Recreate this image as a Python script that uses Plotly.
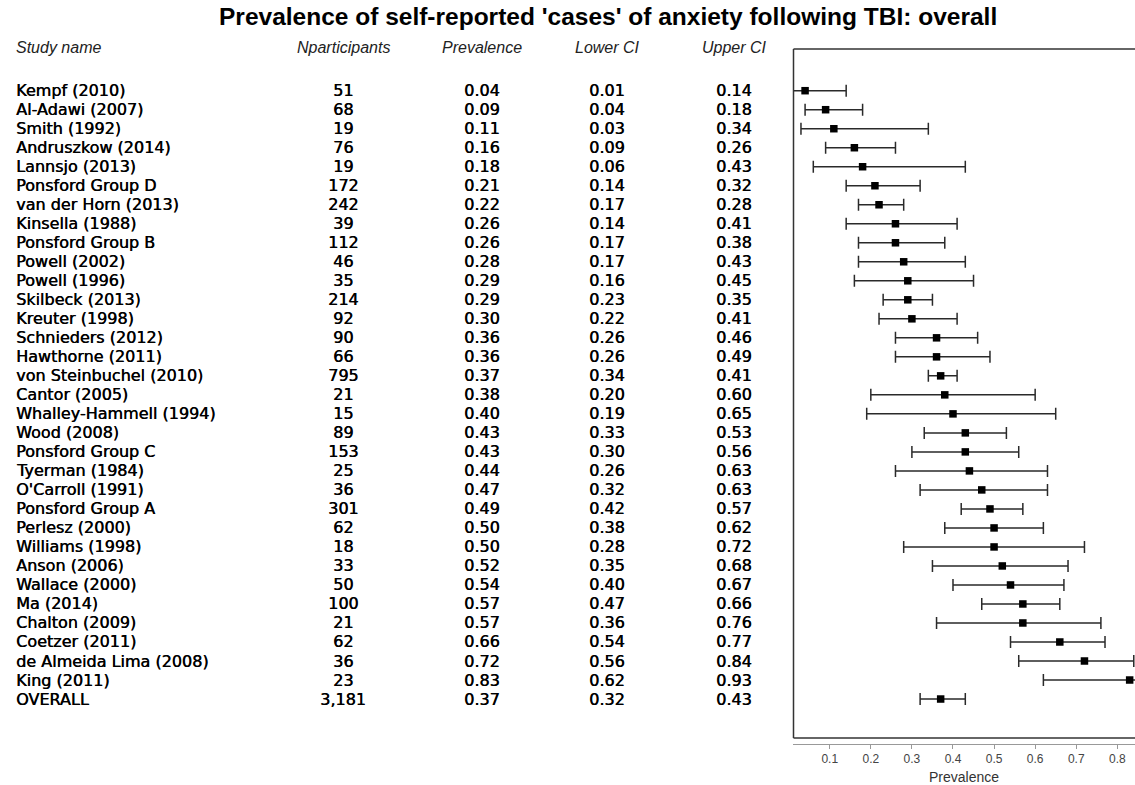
import plotly.graph_objects as go

# Study-level prevalence of self-reported anxiety 'cases' after TBI
studies = ["Kempf (2010)", "Al-Adawi (2007)", "Smith (1992)", "Andruszkow (2014)",
           "Lannsjo (2013)", "Ponsford Group D", "van der Horn (2013)", "Kinsella (1988)",
           "Ponsford Group B", "Powell (2002)", "Powell (1996)", "Skilbeck (2013)",
           "Kreuter (1998)", "Schnieders (2012)", "Hawthorne (2011)", "von Steinbuchel (2010)",
           "Cantor (2005)", "Whalley-Hammell (1994)", "Wood (2008)", "Ponsford Group C",
           "Tyerman (1984)", "O'Carroll (1991)", "Ponsford Group A", "Perlesz (2000)",
           "Williams (1998)", "Anson (2006)", "Wallace (2000)", "Ma (2014)",
           "Chalton (2009)", "Coetzer (2011)", "de Almeida Lima (2008)", "King (2011)",
           "OVERALL"]
n_participants = [51, 68, 19, 76, 19, 172, 242, 39, 112, 46, 35, 214, 92, 90, 66, 795,
                  21, 15, 89, 153, 25, 36, 301, 62, 18, 33, 50, 100, 21, 62, 36, 23, 3181]
prevalence = [0.04, 0.09, 0.11, 0.16, 0.18, 0.21, 0.22, 0.26, 0.26, 0.28, 0.29, 0.29,
              0.30, 0.36, 0.36, 0.37, 0.38, 0.40, 0.43, 0.43, 0.44, 0.47, 0.49, 0.50,
              0.50, 0.52, 0.54, 0.57, 0.57, 0.66, 0.72, 0.83, 0.37]
lower_ci = [0.01, 0.04, 0.03, 0.09, 0.06, 0.14, 0.17, 0.14, 0.17, 0.17, 0.16, 0.23,
            0.22, 0.26, 0.26, 0.34, 0.20, 0.19, 0.33, 0.30, 0.26, 0.32, 0.42, 0.38,
            0.28, 0.35, 0.40, 0.47, 0.36, 0.54, 0.56, 0.62, 0.32]
upper_ci = [0.14, 0.18, 0.34, 0.26, 0.43, 0.32, 0.28, 0.41, 0.38, 0.43, 0.45, 0.35,
            0.41, 0.46, 0.49, 0.41, 0.60, 0.65, 0.53, 0.56, 0.63, 0.63, 0.57, 0.62,
            0.72, 0.68, 0.67, 0.66, 0.76, 0.77, 0.84, 0.93, 0.43]
x_ticks = [0.1, 0.2, 0.3, 0.4, 0.5, 0.6, 0.7, 0.8]

W, H = 1135, 785
rows = list(range(len(studies)))

# pixel geometry of the forest panel
PLOT_LEFT, PLOT_TOP, AXIS_Y, BOX_BOTTOM = 793.5, 49, 744, 738
ROW0_Y, ROW_STEP = 90.7, 19.01


def px_x(p):
    return p / W


def px_y(p):
    return (H - p) / H


y_top = -(ROW0_Y - PLOT_TOP) / ROW_STEP
y_bottom = (AXIS_Y - ROW0_Y) / ROW_STEP

FONT = "Liberation Sans, Arial, sans-serif"
BODY = dict(family="DejaVu Sans, sans-serif", size=16, color="black",
            shadow="0.45px 0px 0px #000")
HEAD = dict(family=FONT, size=16, color="#222", style="italic")

fig = go.Figure()

fig.add_trace(go.Scatter(
    x=prevalence, y=rows, mode="markers",
    marker=dict(symbol="square", size=7.5, color="black"),
    error_x=dict(type="data", symmetric=False,
                 array=[u - p for u, p in zip(upper_ci, prevalence)],
                 arrayminus=[p - l for p, l in zip(prevalence, lower_ci)],
                 color="#2a2a2a", thickness=1.5, width=6),
    showlegend=False, hoverinfo="skip",
))

annotations = []
# table columns: (x centre in px, header, values)
columns = [
    (343, "Nparticipants", [f"{v:,}" for v in n_participants]),
    (482, "Prevalence", [f"{v:.2f}" for v in prevalence]),
    (607, "Lower CI", [f"{v:.2f}" for v in lower_ci]),
    (734, "Upper CI", [f"{v:.2f}" for v in upper_ci]),
]
annotations.append(dict(x=px_x(14), y=px_y(48), xref="paper", yref="paper",
                        text="Study name", showarrow=False, xanchor="left",
                        yanchor="middle", font=HEAD))
for r, name in zip(rows, studies):
    annotations.append(dict(x=px_x(14), y=r, xref="paper", yref="y", text=name,
                            showarrow=False, xanchor="left", yanchor="middle",
                            font=BODY))
for cx, head, vals in columns:
    annotations.append(dict(x=px_x(cx), y=px_y(48), xref="paper", yref="paper",
                            text=head, showarrow=False, xanchor="center",
                            yanchor="middle", font=HEAD))
    for r, v in zip(rows, vals):
        annotations.append(dict(x=px_x(cx), y=r, xref="paper", yref="y", text=v,
                                showarrow=False, xanchor="center", yanchor="middle",
                                font=BODY))

annotations.append(dict(x=px_x(608), y=px_y(17), xref="paper", yref="paper",
                        text="<b>Prevalence of self-reported 'cases' of anxiety following TBI: overall</b>",
                        showarrow=False, xanchor="center", yanchor="middle",
                        font=dict(family=FONT, size=24.5, color="black")))

# frame around the forest plot (left, top, bottom)
frame = dict(color="#333", width=1.5)
shapes = [
    dict(type="line", xref="paper", yref="paper", x0=px_x(PLOT_LEFT), x1=px_x(PLOT_LEFT),
         y0=px_y(PLOT_TOP), y1=px_y(BOX_BOTTOM), line=frame),
    dict(type="line", xref="paper", yref="paper", x0=px_x(PLOT_LEFT), x1=1.0,
         y0=px_y(PLOT_TOP), y1=px_y(PLOT_TOP), line=frame),
    dict(type="line", xref="paper", yref="paper", x0=px_x(PLOT_LEFT), x1=1.0,
         y0=px_y(BOX_BOTTOM), y1=px_y(BOX_BOTTOM), line=frame),
]

fig.update_layout(
    width=W, height=H,
    margin=dict(l=0, r=0, t=0, b=0),
    paper_bgcolor="white", plot_bgcolor="white",
    annotations=annotations, shapes=shapes,
    xaxis=dict(domain=[793 / W, 1.0], range=[0.0106, 0.843],
               tickvals=x_ticks, ticktext=[f"{t:.1f}" for t in x_ticks],
               showgrid=False, zeroline=False,
               showline=True, linecolor="#999", linewidth=1,
               ticks="outside", ticklen=4, tickcolor="#999",
               tickfont=dict(family=FONT, size=12, color="#444"),
               title=dict(text="Prevalence", standoff=6,
                          font=dict(family=FONT, size=14, color="#333"))),
    yaxis=dict(domain=[px_y(AXIS_Y), px_y(PLOT_TOP)], range=[y_bottom, y_top],
               showgrid=False, zeroline=False, showline=False,
               showticklabels=False, ticks=""),
)

fig.write_html("out.html")
